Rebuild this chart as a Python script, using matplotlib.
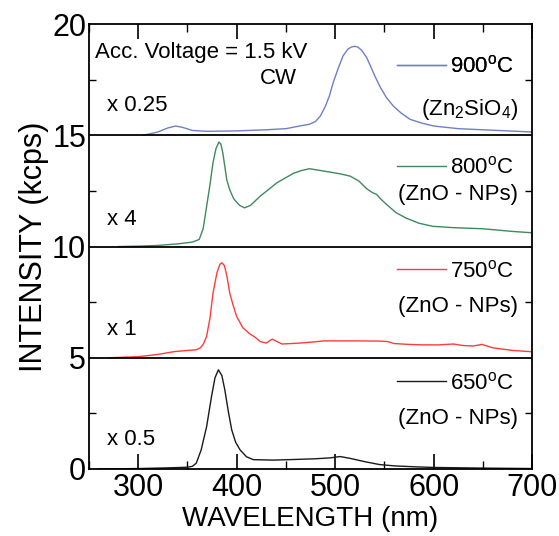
import numpy as np
import matplotlib
matplotlib.use("Agg")
import matplotlib.pyplot as plt
from matplotlib.ticker import MultipleLocator

plt.rcParams['font.family'] = ['Liberation Sans', 'DejaVu Sans']
plt.rcParams['mathtext.fontset'] = 'custom'
plt.rcParams['mathtext.rm'] = 'Liberation Sans'
plt.rcParams['mathtext.it'] = 'Liberation Sans:italic'

# spectra (intensity within each 5-unit panel)
wl_650 = [260, 300, 330, 350, 355, 359, 364, 369.5, 374.5, 378, 381.5, 385, 388, 391.5, 395, 399,
          403.5, 410, 417, 437, 460, 480, 495, 505, 515, 530, 545, 560, 580, 600, 650, 700]
int_650 = [0.0, 0.02, 0.05, 0.08, 0.12, 0.26, 0.86, 1.9, 3.26, 4.1, 4.46, 4.2, 3.56, 2.6, 1.76, 1.2,
           0.86, 0.55, 0.42, 0.4, 0.43, 0.46, 0.5, 0.56, 0.48, 0.33, 0.2, 0.14, 0.1, 0.07, 0.04, 0.02]

wl_750 = [270, 300, 320, 337, 359, 363, 366, 369.5, 373, 376, 380, 383, 385, 387.5, 390, 393,
          396.5, 400, 406.5, 413.5, 418, 424, 430, 436, 441, 446, 464, 480, 489, 505, 520, 545,
          553, 560, 575, 590, 605, 620, 630, 640, 649, 660, 680, 700]
int_750 = [0.0, 0.05, 0.15, 0.28, 0.36, 0.44, 0.6, 0.96, 1.8, 2.91, 3.82, 4.2, 4.27, 4.15, 3.7, 2.91,
           2.35, 1.86, 1.34, 1.07, 0.95, 0.73, 0.66, 0.84, 0.73, 0.62, 0.66, 0.72, 0.76, 0.76, 0.76, 0.75,
           0.73, 0.64, 0.6, 0.58, 0.58, 0.62, 0.55, 0.53, 0.6, 0.45, 0.33, 0.27]

wl_800 = [280, 300, 320, 340, 355, 362, 366, 369.5, 373, 376, 379, 382, 384, 386, 388, 390,
          393, 397, 403, 408, 414, 424, 432, 441, 450, 458, 466, 474, 489, 505, 515, 524,
          532, 538, 542, 546, 552, 562, 572, 585, 599, 620, 650, 680, 700]
int_800 = [0.0, 0.02, 0.05, 0.12, 0.2, 0.32, 0.8, 1.8, 2.8, 3.77, 4.4, 4.7, 4.6, 4.2, 3.6, 3.0,
           2.55, 2.15, 1.85, 1.74, 1.85, 2.27, 2.55, 2.87, 3.1, 3.3, 3.42, 3.5, 3.39, 3.27, 3.17, 2.95,
           2.6, 2.42, 2.35, 2.15, 1.9, 1.52, 1.28, 1.05, 0.91, 0.85, 0.8, 0.68, 0.62]

wl_900 = [305, 320, 330, 338, 345, 355, 370, 400, 430, 450, 464, 474, 480, 485, 490, 494,
          498, 503, 508, 513, 517, 520, 523, 527, 532, 536, 541, 546, 552, 559, 567, 576,
          588, 600, 625, 650, 700]
int_900 = [0.0, 0.15, 0.33, 0.42, 0.36, 0.22, 0.18, 0.2, 0.25, 0.3, 0.42, 0.5, 0.62, 0.87, 1.3, 1.75,
           2.37, 3.0, 3.57, 3.88, 3.98, 4.0, 3.97, 3.82, 3.5, 3.1, 2.6, 2.15, 1.7, 1.32, 1.0, 0.72,
           0.55, 0.42, 0.3, 0.25, 0.15]

offsets = [0, 5, 10, 15]
colors = ['#1a1a1a', '#ff3c3c', '#3f8a5c', '#6f7fc4']
temps = ['650', '750', '800', '900']
phases = ['(ZnO - NPs)', '(ZnO - NPs)', '(ZnO - NPs)', r'(Zn$_2$SiO$_4$)']
scales = ['x 0.5', 'x 1', 'x 4', 'x 0.25']

fig = plt.figure(figsize=(5.59, 5.36), dpi=100)
ax = fig.add_axes([0.159, 0.125, 0.793, 0.830])

spectra = [(wl_650, int_650), (wl_750, int_750), (wl_800, int_800), (wl_900, int_900)]
lines = []
for (wl, inten), off, c in zip(spectra, offsets, colors):
    ln, = ax.plot(wl, np.array(inten) + off, color=c, lw=1.0)
    lines.append(ln)

for off in offsets[1:]:
    ax.axhline(off, color='black', lw=1.3)

ax.set_xlim(250, 700)
ax.set_ylim(0, 20)
ax.xaxis.set_major_locator(MultipleLocator(100))
ax.xaxis.set_minor_locator(MultipleLocator(50))
ax.yaxis.set_major_locator(MultipleLocator(5))
ax.yaxis.set_minor_locator(MultipleLocator(2.5))
ax.tick_params(axis='x', which='major', direction='in', length=11, width=1.2,
               top=True, labelsize=22, pad=3)
ax.tick_params(axis='x', which='minor', direction='in', length=6, width=1.0, top=True)
ax.tick_params(axis='y', which='major', direction='in', length=0, labelsize=22, pad=2)
ax.tick_params(axis='y', which='minor', direction='in', length=5, width=1.0, right=True)
for s in ax.spines.values():
    s.set_linewidth(1.3)

ax.set_xlabel('WAVELENGTH (nm)', fontsize=20, labelpad=2)
ax.set_ylabel('INTENSITY (kcps)', fontsize=22, labelpad=2)

# per-panel legend entries and labels
for i, (ln, off) in enumerate(zip(lines, offsets)):
    lab_y = [3.86, 8.89, 13.54, 18.1][i]
    leg = ax.legend([ln], [temps[i] + r'$^\mathrm{o}$C'], loc='center right',
                    bbox_to_anchor=(681, lab_y), bbox_transform=ax.transData,
                    frameon=False, fontsize=16, handlelength=2.2, handletextpad=0.15,
                    borderpad=0, borderaxespad=0)
    ax.add_artist(leg)
    ph_y = [2.28, 7.31, 12.34, 16.17][i]
    ax.text(686, ph_y, phases[i], ha='right', va='center', fontsize=16)
    sc_y = [1.31, 6.26, 11.22, 16.35][i]
    ax.text(268, sc_y, scales[i], ha='left', va='center', fontsize=16)

ax.text(256, 18.72, 'Acc. Voltage = 1.5 kV', ha='left', va='center', fontsize=16)
ax.text(442, 17.57, 'CW', ha='center', va='center', fontsize=16)

fig.savefig('out.png', dpi=100)
